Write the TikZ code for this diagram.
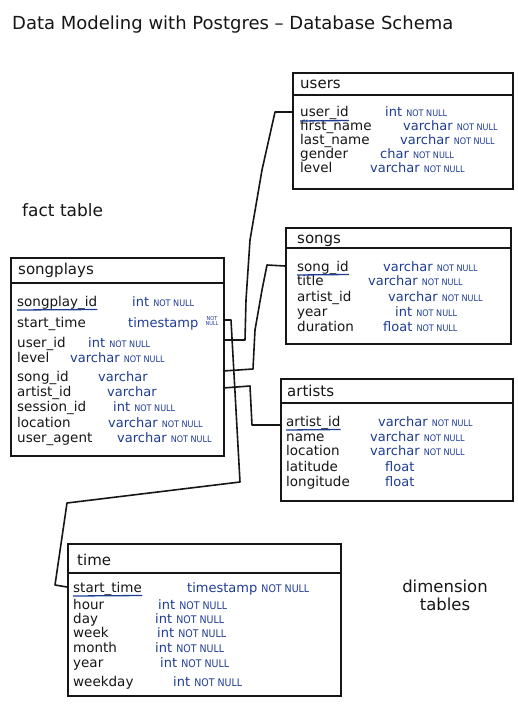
\documentclass[tikz,border=0pt]{standalone}
\usepackage{fontspec}
\usepackage{graphicx}
\setmainfont{DejaVu Sans}
\newfontfamily\condfont{DejaVu Sans Condensed}
\definecolor{ink}{HTML}{161616}
\definecolor{pen}{HTML}{1E3C94}
\newcommand\nn{{\condfont\fontsize{9}{9}\selectfont NOT NULL}}
\newcommand\nnbig{{\condfont\fontsize{10.5}{10.5}\selectfont NOT NULL}}
\tikzset{
  tbl/.style={draw=ink, line width=1.6pt, rectangle, inner sep=0pt, anchor=north west},
  hline/.style={draw=ink, line width=1.5pt},
  ttl/.style={font=\fontsize{15}{15}\selectfont, text=ink, anchor=base west, inner sep=0pt},
  col/.style={font=\fontsize{13.5}{13.5}\selectfont, text=ink, anchor=base west, inner sep=0pt},
  typ/.style={font=\fontsize{13}{13}\selectfont, text=pen, anchor=base west, inner sep=0pt},
  pk/.style={draw=pen, line width=1.3pt},
  link/.style={draw=ink, line width=1.6pt, line join=round},
  note/.style={font=\fontsize{16.5}{18}\selectfont, text=ink, inner sep=0pt}
}
\begin{document}
\begin{tikzpicture}[x=1pt,y=-1pt]
\useasboundingbox[fill=white] (0,0) rectangle (517,714);

% title
\node[note, font=\fontsize{18}{18}\selectfont, anchor=base west] (title) at (12,30) {Data Modeling with Postgres -- Database Schema};
\node[note, font=\fontsize{17}{17}\selectfont, anchor=base west] (fact) at (22,216) {fact table};
\node[note, align=center, anchor=north] (dim) at (445,580) {dimension\\tables};

% ---------- users ----------
\node[tbl, minimum width=220pt, minimum height=116pt] (users) at (292,72) {};
\draw[hline] (292,95) -- (512,95);
\node[ttl] (ut) at (300,89) {users};
\node[col] (u1) at (300,117) {user\_id};
\node[col] (u2) at (300,131) {first\_name};
\node[col] (u3) at (300,145) {last\_name};
\node[col] (u4) at (300,159) {gender};
\node[col] (u5) at (300,173) {level};
\node[typ] (ut1) at (385,117) {int \nn};
\node[typ] (ut2) at (403,131) {varchar \nn};
\node[typ] (ut3) at (400,145) {varchar \nn};
\node[typ] (ut4) at (380,159) {char \nn};
\node[typ] (ut5) at (370,173) {varchar \nn};

% ---------- songs ----------
\node[tbl, minimum width=225pt, minimum height=116pt] (songs) at (285,227) {};
\draw[hline] (285,248) -- (510,248);
\node[ttl] (st) at (297,243) {songs};
\node[col] (s1) at (297,271) {song\_id};
\node[col] (s2) at (297,285) {title};
\node[col] (s3) at (297,301) {artist\_id};
\node[col] (s4) at (297,316) {year};
\node[col] (s5) at (297,331) {duration};
\node[typ] (st1) at (383,271) {varchar \nn};
\node[typ] (st2) at (368,285) {varchar \nn};
\node[typ] (st3) at (388,301) {varchar \nn};
\node[typ] (st4) at (395,316) {int \nn};
\node[typ] (st5) at (383,331) {float \nn};

% ---------- artists ----------
\node[tbl, minimum width=232pt, minimum height=122pt] (artists) at (280,378) {};
\draw[hline] (280,403) -- (512,403);
\node[ttl] (at) at (287,396) {artists};
\node[col] (a1) at (286,426) {artist\_id};
\node[col] (a2) at (286,441) {name};
\node[col] (a3) at (286,455) {location};
\node[col] (a4) at (286,471) {latitude};
\node[col] (a5) at (286,486) {longitude};
\node[typ] (at1) at (378,426) {varchar \nn};
\node[typ] (at2) at (370,441) {varchar \nn};
\node[typ] (at3) at (370,455) {varchar \nn};
\node[typ] (at4) at (385,471) {float};
\node[typ] (at5) at (385,486) {float};

% ---------- songplays ----------
\node[tbl, minimum width=213pt, minimum height=198pt] (songplays) at (10,257) {};
\draw[hline] (10,283) -- (223,283);
\node[ttl] (pt) at (18,274) {songplays};
\node[col] (p1) at (17,306) {songplay\_id};
\node[col] (p2) at (17,327) {start\_time};
\node[col] (p3) at (17,347) {user\_id};
\node[col] (p4) at (17,362) {level};
\node[col] (p5) at (17,381) {song\_id};
\node[col] (p6) at (17,396) {artist\_id};
\node[col] (p7) at (17,411) {session\_id};
\node[col] (p8) at (17,427) {location};
\node[col] (p9) at (17,442) {user\_agent};
\node[typ] (pt1) at (132,306) {int \nn};
\node[typ] (pt2) at (128,327) {timestamp};
\node[typ, font=\condfont\fontsize{5.5}{5.5}\selectfont, align=center, anchor=center] (pt2b) at (212,321) {NOT\\NULL};
\node[typ] (pt3) at (88,347) {int \nn};
\node[typ] (pt4) at (70,362) {varchar \nn};
\node[typ] (pt5) at (98,381) {varchar};
\node[typ] (pt6) at (107,396) {varchar};
\node[typ] (pt7) at (113,411) {int \nn};
\node[typ] (pt8) at (108,427) {varchar \nn};
\node[typ] (pt9) at (117,442) {varchar \nn};

% ---------- time ----------
\node[tbl, minimum width=273pt, minimum height=152pt] (time) at (67,543) {};
\draw[hline] (67,573) -- (340,573);
\node[ttl] (tt) at (77,565) {time};
\node[col] (t1) at (73,592) {start\_time};
\node[col] (t2) at (73,609) {hour};
\node[col] (t3) at (73,623) {day};
\node[col] (t4) at (73,637) {week};
\node[col] (t5) at (73,652) {month};
\node[col] (t6) at (73,667) {year};
\node[col] (t7) at (73,686) {weekday};
\node[typ] (tt1) at (187,592) {timestamp \nnbig};
\node[typ] (tt2) at (158,609) {int \nnbig};
\node[typ] (tt3) at (155,623) {int \nnbig};
\node[typ] (tt4) at (157,637) {int \nnbig};
\node[typ] (tt5) at (155,652) {int \nnbig};
\node[typ] (tt6) at (160,667) {int \nnbig};
\node[typ] (tt7) at (173,686) {int \nnbig};

% ---------- primary key underlines ----------
\foreach \k in {u1,s1,a1,p1,t1}
  \draw[pk] ([yshift=-4pt]\k.base west) -- ([yshift=-3.5pt]\k.base east);

% ---------- connector end points ----------
\coordinate (uU) at (292,112);
\coordinate (pU) at (223,340);
\coordinate (sS) at (285,266);
\coordinate (pS) at (223,371);
\coordinate (aA) at (280,425);
\coordinate (pA) at (223,388);
\coordinate (pT) at (223,320);
\coordinate (tT) at (67,587);

\draw[link] (uU) -- (275,112) -- (262,170) -- (250,240) -- (246,300) -- (245,340) -- (pU);
\draw[link] (sS) -- (267,265) -- (262,290) -- (255,330) -- (253,369) -- (pS);
\draw[link] (pA) -- (250,386) -- (252,425) -- (aA);
\draw[link] (pT) -- (231,320) -- (240,482) -- (67,503) -- (55,585) -- (tT);
\end{tikzpicture}
\end{document}
